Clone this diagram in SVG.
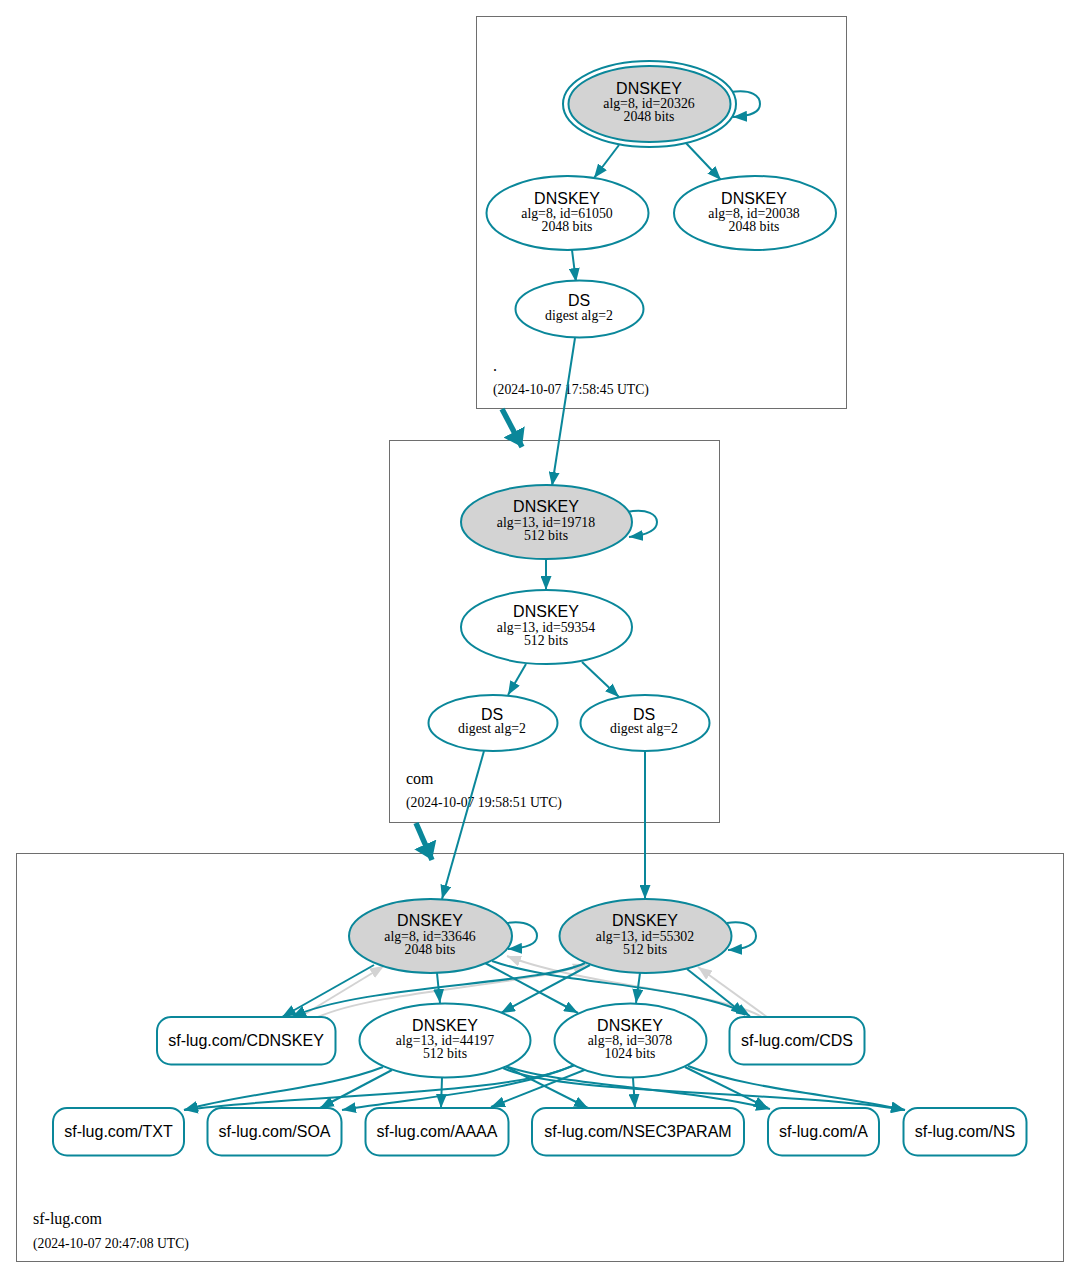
<svg xmlns="http://www.w3.org/2000/svg" width="1080" height="1278" viewBox="0 0 1080 1278">
<defs>
<style>
.cl{fill:none;stroke:#6e6e6e;stroke-width:1}
.n{fill:#fff;stroke:#0a879a;stroke-width:2}
.k{fill:#d3d3d3;stroke:#0a879a;stroke-width:2}
.e{fill:none;stroke:#0a879a;stroke-width:2;marker-end:url(#a)}
.g{fill:none;stroke:#d3d3d3;stroke-width:2;marker-end:url(#ag)}
.t{fill:none;stroke:#0a879a;stroke-width:5.5;marker-end:url(#at)}
.h{font-family:"Liberation Sans",Arial,sans-serif;font-size:16px;text-anchor:middle;fill:#000}
.s{font-family:"Liberation Serif","Times New Roman",serif;font-size:13.8px;text-anchor:middle;fill:#000}
.lb{font-family:"Liberation Serif","Times New Roman",serif;font-size:16px;fill:#000}
.dt{font-family:"Liberation Serif","Times New Roman",serif;font-size:13.7px;fill:#000}
</style>
<marker id="a" markerWidth="15" markerHeight="11" refX="14" refY="5.5" orient="auto" markerUnits="userSpaceOnUse"><path d="M0,0 L14,5.5 L0,11 z" fill="#0a879a"/></marker>
<marker id="ag" markerWidth="15" markerHeight="11" refX="14" refY="5.5" orient="auto" markerUnits="userSpaceOnUse"><path d="M0,0 L14,5.5 L0,11 z" fill="#d3d3d3"/></marker>
<marker id="at" markerWidth="18" markerHeight="24" refX="17" refY="12" orient="auto" markerUnits="userSpaceOnUse"><path d="M0,0 L17,12 L0,24 z" fill="#0a879a"/></marker>
</defs>
<rect width="1080" height="1278" fill="#fff"/>

<g id="clusters">
<rect class="cl" x="476.5" y="16.5" width="370" height="392"/>
<rect class="cl" x="389.5" y="440.5" width="330" height="382"/>
<rect class="cl" x="16.5" y="853.5" width="1047" height="408"/>
<text class="lb" x="493" y="371">.</text>
<text class="dt" x="493" y="394">(2024-10-07 17:58:45 UTC)</text>
<text class="lb" x="406" y="784">com</text>
<text class="dt" x="406" y="807">(2024-10-07 19:58:51 UTC)</text>
<text class="lb" x="33" y="1224">sf-lug.com</text>
<text class="dt" x="33" y="1248">(2024-10-07 20:47:08 UTC)</text>
</g>

<g id="connectors">
<path class="t" d="M502,409 L522,447"/>
<path class="t" d="M416,823 L432,860"/>
<path class="e" d="M731,92 C752,89 760,96 760,104 C760,112 752,116 733,117"/>
<path class="e" d="M619,145 L594,178"/>
<path class="e" d="M686,143 L721,180"/>
<path class="e" d="M572,250 L576,282"/>
<path class="e" d="M575,338 L552,486"/>
<path class="e" d="M627,512 C648,508 657,515 657,522 C657,530 648,535 629,537"/>
<path class="e" d="M546,559 L546,590"/>
<path class="e" d="M526,664 L508,695"/>
<path class="e" d="M582,662 L619,697"/>
<path class="e" d="M484,751 L442,899"/>
<path class="e" d="M645,751 L645,899"/>
<path class="e" d="M507,923 C528,920 537,928 537,936 C537,944 528,948 508,949"/>
<path class="e" d="M727,923 C748,920 756,928 756,936 C756,944 747,949 728,950"/>
<path class="g" d="M300,1017 L384,966"/>
<path class="g" d="M318,1017 C380,990 530,985 587,964"/>
<path class="g" d="M767,1017 L698,967"/>
<path class="g" d="M762,1017 C720,992 580,985 507,956"/>
<path class="e" d="M374,965 L282,1017"/>
<path class="e" d="M585,963 C540,985 360,985 292,1017"/>
<path class="e" d="M492,961 C560,985 700,985 750,1016"/>
<path class="e" d="M687,969 L745,1015"/>
<path class="e" d="M437,973 L440,1003"/>
<path class="e" d="M485,963 L578,1013"/>
<path class="e" d="M590,965 L501,1013"/>
<path class="e" d="M640,973 L636,1003"/>
<path class="e" d="M383,1067 C330,1088 250,1092 184,1110"/>
<path class="e" d="M578,1063 C520,1096 300,1094 184,1110"/>
<path class="e" d="M392,1070 L320,1108"/>
<path class="e" d="M575,1065 C510,1092 420,1097 342,1110"/>
<path class="e" d="M442,1078 L441,1108"/>
<path class="e" d="M592,1067 L491,1107"/>
<path class="e" d="M505,1066 L588,1108"/>
<path class="e" d="M633,1078 L635,1108"/>
<path class="e" d="M508,1067 C560,1085 700,1090 770,1109"/>
<path class="e" d="M503,1068 C560,1095 780,1090 905,1110"/>
<path class="e" d="M685,1067 L768,1108"/>
<path class="e" d="M688,1066 C750,1090 840,1095 905,1110"/>
</g>

<g id="dnskey-20326">
<ellipse class="n" cx="649.5" cy="104" rx="86.5" ry="43"/>
<ellipse class="k" cx="649.5" cy="104" rx="81" ry="38"/>
<text class="h" x="649" y="94">DNSKEY</text>
<text class="s" x="649" y="108">alg=8, id=20326</text>
<text class="s" x="649" y="121">2048 bits</text>
</g>
<g id="dnskey-61050">
<ellipse class="n" cx="567.5" cy="213" rx="81" ry="37"/>
<text class="h" x="567" y="204">DNSKEY</text>
<text class="s" x="567" y="218">alg=8, id=61050</text>
<text class="s" x="567" y="231">2048 bits</text>
</g>
<g id="dnskey-20038">
<ellipse class="n" cx="755" cy="213" rx="81" ry="37"/>
<text class="h" x="754" y="204">DNSKEY</text>
<text class="s" x="754" y="218">alg=8, id=20038</text>
<text class="s" x="754" y="231">2048 bits</text>
</g>
<g id="ds-root">
<ellipse class="n" cx="579.5" cy="309" rx="64" ry="28.5"/>
<text class="h" x="579" y="306">DS</text>
<text class="s" x="579" y="320">digest alg=2</text>
</g>

<g id="dnskey-19718">
<ellipse class="k" cx="546.5" cy="522" rx="85.5" ry="37"/>
<text class="h" x="546" y="512">DNSKEY</text>
<text class="s" x="546" y="527">alg=13, id=19718</text>
<text class="s" x="546" y="540">512 bits</text>
</g>
<g id="dnskey-59354">
<ellipse class="n" cx="546.5" cy="627" rx="85.5" ry="37"/>
<text class="h" x="546" y="617">DNSKEY</text>
<text class="s" x="546" y="632">alg=13, id=59354</text>
<text class="s" x="546" y="645">512 bits</text>
</g>
<g id="ds-com-1">
<ellipse class="n" cx="493" cy="723" rx="64.5" ry="28"/>
<text class="h" x="492" y="720">DS</text>
<text class="s" x="492" y="733">digest alg=2</text>
</g>
<g id="ds-com-2">
<ellipse class="n" cx="645" cy="723" rx="64.5" ry="28"/>
<text class="h" x="644" y="720">DS</text>
<text class="s" x="644" y="733">digest alg=2</text>
</g>

<g id="dnskey-33646">
<ellipse class="k" cx="430.5" cy="936" rx="81.5" ry="37"/>
<text class="h" x="430" y="926">DNSKEY</text>
<text class="s" x="430" y="941">alg=8, id=33646</text>
<text class="s" x="430" y="954">2048 bits</text>
</g>
<g id="dnskey-55302">
<ellipse class="k" cx="645.5" cy="936" rx="86" ry="37"/>
<text class="h" x="645" y="926">DNSKEY</text>
<text class="s" x="645" y="941">alg=13, id=55302</text>
<text class="s" x="645" y="954">512 bits</text>
</g>
<g id="dnskey-44197">
<ellipse class="n" cx="445" cy="1040.5" rx="85.5" ry="37"/>
<text class="h" x="445" y="1031">DNSKEY</text>
<text class="s" x="445" y="1045">alg=13, id=44197</text>
<text class="s" x="445" y="1058">512 bits</text>
</g>
<g id="dnskey-3078">
<ellipse class="n" cx="630.5" cy="1040.5" rx="76" ry="37"/>
<text class="h" x="630" y="1031">DNSKEY</text>
<text class="s" x="630" y="1045">alg=8, id=3078</text>
<text class="s" x="630" y="1058">1024 bits</text>
</g>
<g id="rr-cdnskey">
<rect class="n" x="157" y="1017" width="178.5" height="47.5" rx="14"/>
<text class="h" x="246" y="1046">sf-lug.com/CDNSKEY</text>
</g>
<g id="rr-cds">
<rect class="n" x="729.5" y="1017" width="135" height="47.5" rx="14"/>
<text class="h" x="797" y="1046">sf-lug.com/CDS</text>
</g>
<g id="rr-txt">
<rect class="n" x="53" y="1108" width="131" height="47.5" rx="14"/>
<text class="h" x="118.5" y="1137">sf-lug.com/TXT</text>
</g>
<g id="rr-soa">
<rect class="n" x="207.5" y="1108" width="134" height="47.5" rx="14"/>
<text class="h" x="274.5" y="1137">sf-lug.com/SOA</text>
</g>
<g id="rr-aaaa">
<rect class="n" x="365.5" y="1108" width="143" height="47.5" rx="14"/>
<text class="h" x="437" y="1137">sf-lug.com/AAAA</text>
</g>
<g id="rr-nsec3param">
<rect class="n" x="532" y="1108" width="212" height="47.5" rx="14"/>
<text class="h" x="638" y="1137">sf-lug.com/NSEC3PARAM</text>
</g>
<g id="rr-a">
<rect class="n" x="768" y="1108" width="111" height="47.5" rx="14"/>
<text class="h" x="823.5" y="1137">sf-lug.com/A</text>
</g>
<g id="rr-ns">
<rect class="n" x="903.5" y="1108" width="123" height="47.5" rx="14"/>
<text class="h" x="965" y="1137">sf-lug.com/NS</text>
</g>
</svg>
